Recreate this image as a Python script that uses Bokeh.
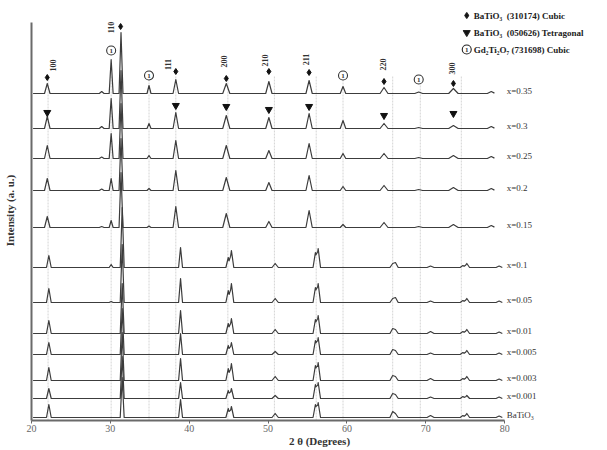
import math
from bokeh.plotting import figure
from bokeh.models import ColumnDataSource, LabelSet, Range1d, FixedTicker
from bokeh.core.properties import value
from bokeh.embed import file_html
from bokeh.resources import INLINE

# ---------------- data ----------------
x_ticks = [20, 30, 40, 50, 60, 70, 80]

samples = ["x=0.35", "x=0.3", "x=0.25", "x=0.2", "x=0.15", "x=0.1",
           "x=0.05", "x=0.01", "x=0.005", "x=0.003", "x=0.001", "BaTiO₃"]
# vertical stacking offset of every pattern (a.u.)
offsets = [327, 292, 262, 230, 193, 153, 118, 87, 66, 40, 22, 3]

# Gd-rich patterns (x = 0.35 ... 0.15): peak centres (2θ), half widths, heights
rich_pos = [22.0, 28.9, 30.1, 31.35, 34.9, 38.3, 44.7, 50.1, 55.2, 59.5, 64.7, 69.1, 73.5, 78.3]
rich_wid = [0.35, 0.3, 0.25, 0.25, 0.25, 0.35, 0.45, 0.4, 0.4, 0.35, 0.5, 0.5, 0.6, 0.5]
rich_hts = {
    "x=0.35": [10, 2, 34, 61, 8, 14, 10, 12, 13, 7, 6, 1.5, 5, 2],
    "x=0.3":  [12, 2, 30, 58, 5, 16, 13, 11, 15, 8, 5, 1, 3, 2],
    "x=0.25": [13, 1.5, 25, 55, 3, 18, 13, 8, 15, 5, 5, 1, 3, 2],
    "x=0.2":  [12, 1.5, 12, 52, 2, 20, 13, 8, 15, 4, 5, 1, 3, 2],
    "x=0.15": [11, 1, 7, 55, 1.5, 21, 14, 6, 17, 3, 5, 1, 3, 2],
}

# Gd-poor patterns (x = 0.1 ... BaTiO3)
poor_pos = [22.2, 30.1, 31.5, 38.9, 44.95, 45.35, 50.9, 56.0, 56.35, 65.8, 66.15, 70.6, 74.7, 75.2, 79.3]
poor_wid = [0.3, 0.25, 0.25, 0.25, 0.3, 0.3, 0.4, 0.3, 0.3, 0.35, 0.35, 0.45, 0.35, 0.35, 0.4]
poor_hts = {
    "x=0.1":   [12, 3, 60, 20, 10, 17, 4, 15, 19, 4, 5, 1.5, 2, 4, 1.5],
    "x=0.05":  [14, 1, 58, 24, 12, 19, 4, 15, 19, 4, 5, 1.5, 2, 4, 1.5],
    "x=0.01":  [13, 0, 50, 23, 10, 15, 4, 14, 18, 5, 4, 2, 2, 4, 1.5],
    "x=0.005": [12, 0, 46, 21, 9, 12, 3, 14, 17, 5, 4, 1.5, 2, 4, 1.5],
    "x=0.003": [13, 0, 48, 22, 12, 17, 4, 15, 18, 5, 4, 2, 2, 4, 1.5],
    "x=0.001": [10, 0, 42, 16, 8, 10, 3, 14, 16, 5, 4, 1.5, 2, 3, 1.5],
    "BaTiO₃":  [13, 0, 40, 18, 9, 11, 4, 13, 15, 6, 4, 2, 2, 4, 1.5],
}
rich_range = (20.2, 78.7)
poor_range = (20.2, 79.7)

# cubic BaTiO3 reflections marked on x=0.35 (◆), level above that baseline
cubic_pos = [22.0, 31.3, 38.3, 44.7, 50.1, 55.2, 64.7, 73.5]
cubic_lvl = [16, 67, 22, 15, 22, 21, 12, 10]
hkl = ["100", "110", "111", "200", "210", "211", "220", "300"]
hkl_lvl = [28, 66, 29, 32, 33, 34, 29, 25]

# tetragonal BaTiO3 reflections marked on x=0.3 (▼)
tetra_pos = [22.0, 38.3, 44.7, 50.1, 55.2, 64.7, 73.5]
tetra_lvl = [16, 23, 22, 19, 22, 13, 15]

# Gd2Ti2O7 reflections marked on x=0.35 (①)
gd_pos = [30.1, 34.9, 59.5, 69.1]
gd_lvl = [43, 18, 18, 14]

# faint guide lines (2θ)
guide_pos = [22.1, 30.1, 34.9, 38.3, 44.9, 50.8, 56.1, 59.5, 65.8, 69.3, 74.5]
guide_top = 345

# legend entries
leg_marker = ["diamond", "inverted_triangle", "circle"]
leg_text = ["BaTiO₃\u00a0\u00a0(310174) Cubic",
            "BaTiO₃\u00a0\u00a0(050626) Tetragonal",
            "Gd₂Ti₂O₇ (731698) Cubic"]

# ---------------- helpers ----------------
def pattern(pos, wid, hts, lo, hi):
    xs = {lo, hi}
    for p, w in zip(pos, wid):
        for v in (p - w, p, p + w):
            if lo < v < hi:
                xs.add(v)
    xs = sorted(xs)
    ys = [sum(max(0.0, h * (1 - abs(x - p) / w)) for p, w, h in zip(pos, wid, hts)) for x in xs]
    return xs, ys

# layout: axis 20..80 spans pixels 30..504, axis baseline at pixel 420, axis top at 22
W, H = 607, 450
FL, AX_R, FT, FB = 30, 504, 22, 420
SCALE = (AX_R - FL) / 60.0
X_END = 20 + (W - FL) / SCALE
def px2x(px):
    return 20 + (px - FL) / SCALE
def py2y(py):
    return FB - py

xs_all, ys_all = [], []
for name, off in zip(samples, offsets):
    if name in rich_hts:
        xs, ys = pattern(rich_pos, rich_wid, rich_hts[name], *rich_range)
    else:
        xs, ys = pattern(poor_pos, poor_wid, poor_hts[name], *poor_range)
    xs_all.append(xs)
    ys_all.append([off + y for y in ys])

# ---------------- figure ----------------
p = figure(width=W, height=H, output_backend="svg", toolbar_location=None,
           x_range=Range1d(20, X_END), y_range=Range1d(0, FB),
           min_border_left=FL, min_border_right=0,
           min_border_top=0, min_border_bottom=H - FB)
p.xgrid.visible = False
p.ygrid.visible = False
p.outline_line_color = None
p.background_fill_color = "white"
p.border_fill_color = "white"

ax = p.xaxis[0]
ax.bounds = (20, 80)
ax.ticker = FixedTicker(ticks=x_ticks)
ax.minor_tick_line_color = None
ax.major_tick_in = 0
ax.major_tick_out = 3
ax.major_tick_line_color = "#666666"
ax.axis_line_width = 2
ax.axis_line_color = "#6a6a6a"
ax.major_label_text_font = "Liberation Serif"
ax.major_label_text_font_size = "10px"
ax.major_label_text_color = "#666666"
ax.major_label_standoff = 1
ax.axis_label = "2 θ (Degrees)"
ax.axis_label_text_font = "Liberation Serif"
ax.axis_label_text_font_size = "11px"
ax.axis_label_text_font_style = "bold"
ax.axis_label_text_color = "#333333"
ax.axis_label_standoff = 0

ay = p.yaxis[0]
ay.bounds = (0, FB - FT)
ay.ticker = FixedTicker(ticks=[])
ay.minor_tick_line_color = None
ay.major_tick_in = 0
ay.major_tick_out = 0
ay.major_label_text_font_size = "0px"
ay.major_label_standoff = 0
ay.axis_line_width = 2
ay.axis_line_color = "#6a6a6a"
ay.axis_label = "Intensity (a. u.)"
ay.axis_label_text_font = "Liberation Serif"
ay.axis_label_text_font_size = "11px"
ay.axis_label_text_font_style = "bold"
ay.axis_label_text_color = "#333333"
ay.axis_label_standoff = 16

# guide lines
p.segment(x0=guide_pos, y0=[0] * len(guide_pos), x1=guide_pos, y1=[guide_top] * len(guide_pos),
          line_color="#d4d4d4", line_width=1, line_dash="2 1")

# patterns
p.multi_line(xs=xs_all, ys=ys_all, line_color="#3c3c3c", line_width=1.2, line_join="round")

# markers
top_off = offsets[0]
sec_off = offsets[1]
p.scatter(x=cubic_pos, y=[top_off + l for l in cubic_lvl], marker="diamond", size=6,
          fill_color="#111111", line_color="#111111")
p.scatter(x=tetra_pos, y=[sec_off + l for l in tetra_lvl], marker="inverted_triangle", size=7,
          fill_color="#111111", line_color="#111111")
gd_y = [top_off + l for l in gd_lvl]
p.scatter(x=gd_pos, y=gd_y, marker="circle", size=9, fill_color="white",
          line_color="#333333", line_width=1.1)
p.text(x=gd_pos, y=gd_y, text=["1"] * len(gd_pos),
       text_font=value("Liberation Serif"), text_font_size="7px", text_font_style="bold",
       text_color="#333333", text_align="center", text_baseline="middle")

# hkl labels
hkl_dx = [6, -10, -8, -2, -4, -3, -1, -1]
hkl_src = ColumnDataSource(dict(x=cubic_pos, y=[top_off + l for l in hkl_lvl], t=hkl, dx=hkl_dx))
p.add_layout(LabelSet(x="x", y="y", text="t", source=hkl_src, x_offset="dx", angle=math.pi / 2,
                      text_font=value("Liberation Serif"), text_font_size="8px",
                      text_font_style="bold", text_color="#333333",
                      text_align="center", text_baseline="middle"))

# sample labels on the right
lab_src = ColumnDataSource(dict(x=[80] * len(samples), y=[o + 3 for o in offsets], t=samples))
p.add_layout(LabelSet(x="x", y="y", text="t", source=lab_src, x_offset=2,
                      text_font=value("Liberation Serif"), text_font_size="9px",
                      text_color="#333333", text_align="left", text_baseline="middle"))

# legend (top right)
leg_py = [15, 32, 49]
leg_size = [6, 7, 9]
leg_fill = ["#111111", "#111111", "white"]
leg_x = [px2x(466)] * 3
leg_y = [py2y(v) for v in leg_py]
p.scatter(x=leg_x, y=leg_y, marker=leg_marker, size=leg_size, fill_color=leg_fill,
          line_color="#222222", line_width=1.1)
p.text(x=leg_x[2:], y=leg_y[2:], text=["1"], text_font=value("Liberation Serif"),
       text_font_size="7px", text_font_style="bold", text_color="#333333",
       text_align="center", text_baseline="middle")
leg_src = ColumnDataSource(dict(x=[px2x(473)] * 3, y=leg_y, t=leg_text))
p.add_layout(LabelSet(x="x", y="y", text="t", source=leg_src,
                      text_font=value("Liberation Serif"), text_font_size="9px",
                      text_font_style="bold", text_color="#222222",
                      text_align="left", text_baseline="middle"))

open("out.html", "w").write(file_html(p, INLINE))
